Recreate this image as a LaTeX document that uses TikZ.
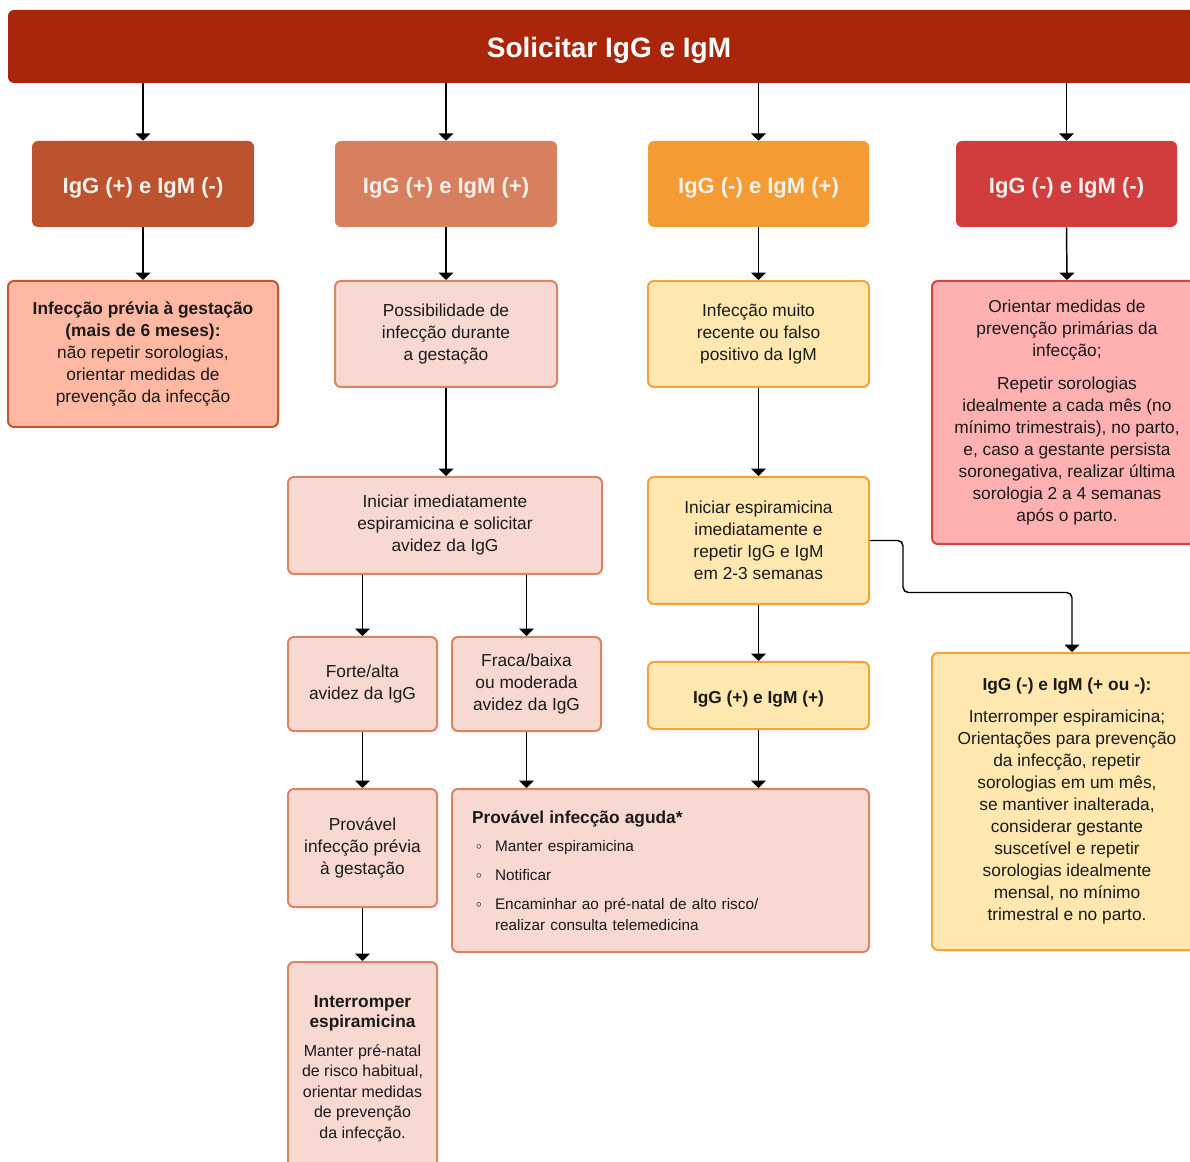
\documentclass[tikz,border=0pt]{standalone}
\usepackage{fontspec}
\setmainfont{Liberation Sans}
\usetikzlibrary{arrows.meta}
\newdimen\px \px=0.75pt
\definecolor{titlered}{HTML}{AA260A}
\definecolor{hdrA}{HTML}{BC532E}
\definecolor{hdrB}{HTML}{D7805F}
\definecolor{hdrC}{HTML}{F49C33}
\definecolor{hdrD}{HTML}{D13D3D}
\definecolor{hdrtxt}{HTML}{F6F0EA}
\definecolor{txt}{HTML}{1A1A1A}
\definecolor{salmonfill}{HTML}{FFB9A3}
\definecolor{salmonline}{HTML}{C7552F}
\definecolor{pinkfill}{HTML}{F8D9D1}
\definecolor{pinkline}{HTML}{DB8463}
\definecolor{yellowfill}{HTML}{FFE8B0}
\definecolor{yellowline}{HTML}{F5A23A}
\definecolor{redfill}{HTML}{FFB0B0}
\definecolor{redline}{HTML}{D44646}
\newcommand\blt{\makebox[17.25pt][l]{\hspace{3pt}\raisebox{1.4pt}{$\scriptstyle\circ$}}}

\begin{document}
\begin{tikzpicture}[x=0.75pt, y=-0.75pt,
	arr/.style={line width=1.1pt, -{Triangle[width=11pt,length=5.5pt]}},
	hdr/.style={rounded corners=4.5pt, text=hdrtxt, inner sep=0pt, text depth=0pt, text height=14.5pt, font=\fontsize{16.5}{20}\selectfont\bfseries},
	box/.style={rounded corners=4.5pt, line width=1.5pt, text=txt, inner sep=0pt, align=center, font=\fontsize{13}{16.5}\selectfont},
	salmonbox/.style={box, fill=salmonfill, draw=salmonline},
	pinkbox/.style={box, fill=pinkfill, draw=pinkline},
	yellowbox/.style={box, fill=yellowfill, draw=yellowline},
	redbox/.style={box, fill=redfill, draw=redline}]
	%%%%% START %%%%%
	\clip (0,0) rectangle (1190,1162);
	\fill[white] (0,0) rectangle (1190,1162);
	
	% titulo
	\node[rounded corners=4.5pt, fill=titlered, text=white, inner sep=0pt, text depth=0pt, text height=17pt, minimum width=1202\px, minimum height=73\px, font=\fontsize{21}{25}\selectfont\bfseries] (title) at (609,46.5) {Solicitar IgG e IgM};
	
	% resultados
	\node[hdr, fill=hdrA, minimum width=222\px, minimum height=86\px] (hA) at (143,184) {IgG (+) e IgM (-)};
	\node[hdr, fill=hdrB, minimum width=222\px, minimum height=86\px] (hB) at (446,184) {IgG (+) e IgM (+)};
	\node[hdr, fill=hdrC, minimum width=221\px, minimum height=86\px] (hC) at (758.5,184) {IgG (-) e IgM (+)};
	\node[hdr, fill=hdrD, minimum width=221\px, minimum height=86\px] (hD) at (1066.5,184) {IgG (-) e IgM (-)};
	
	\draw[arr] (hA.north |- title.south) -- (hA.north);
	\draw[arr] (hB.north |- title.south) -- (hB.north);
	\draw[arr] (hC.north |- title.south) -- (hC.north);
	\draw[arr] (hD.north |- title.south) -- (hD.north);
	
	% coluna A
	\node[salmonbox, minimum width=270\px, minimum height=146\px] (a2) at (143,354) {{\bfseries Infecção prévia à gestação}\\{\bfseries (mais de 6 meses):}\\não repetir sorologias,\\orientar medidas de\\prevenção da infecção};
	\draw[arr] (hA.south) -- (a2.north);
	
	% coluna B
	\node[pinkbox, minimum width=222\px, minimum height=106\px] (b2) at (446,334) {Possibilidade de\\infecção durante\\a gestação};
	\node[pinkbox, minimum width=314\px, minimum height=97\px] (b3) at (445,525.5) {Iniciar imediatamente\\espiramicina e solicitar\\avidez da IgG};
	\node[pinkbox, minimum width=149\px, minimum height=94\px] (b4a) at (362.5,684) {Forte/alta\\avidez da IgG};
	\node[pinkbox, minimum width=149\px, minimum height=94\px] (b4b) at (526.5,684) {Fraca/baixa\\ou moderada\\avidez da IgG};
	\node[pinkbox, minimum width=149\px, minimum height=118\px] (b5) at (362.5,848) {Provável\\infecção prévia\\à gestação};
	\node[pinkbox, minimum width=149\px, minimum height=213\px, font=\fontsize{12}{15.4}\selectfont] (b6) at (362.5,1068.5) {{\fontsize{13}{16}\selectfont\bfseries Interromper}\\{\fontsize{13}{16}\selectfont\bfseries espiramicina}\\[6pt]Manter pré-natal\\de risco habitual,\\orientar medidas\\de prevenção\\da infecção.};
	
	\draw[arr] (hB.south) -- (b2.north);
	\draw[arr] (b2.south) -- (b2.south |- b3.north);
	\draw[arr] (b4a.north |- b3.south) -- (b4a.north);
	\draw[arr] (b4b.north |- b3.south) -- (b4b.north);
	\draw[arr] (b4a.south) -- (b5.north);
	\draw[arr] (b5.south) -- (b6.north);
	
	% infeccao aguda
	\node[pinkbox, minimum width=417\px, minimum height=163\px, text width=377\px, align=left, font=\fontsize{11.5}{15.75}\selectfont] (acute) at (660.5,870.5) {{\fontsize{13}{16}\selectfont\bfseries Provável infecção aguda*}\\[5pt]\blt Manter espiramicina\\[6pt]\blt Notificar\\[6pt]\blt Encaminhar ao pré-natal de alto risco/\\\hspace*{17.25pt}realizar consulta telemedicina};
	\draw[arr] (b4b.south) -- (b4b.south |- acute.north);
	
	% coluna C
	\node[yellowbox, minimum width=221\px, minimum height=106\px] (c2) at (758.5,334) {Infecção muito\\recente ou falso\\positivo da IgM};
	\node[yellowbox, minimum width=221\px, minimum height=127\px] (c3) at (758.5,540.5) {Iniciar espiramicina\\imediatamente e\\repetir IgG e IgM\\em 2-3 semanas};
	\node[yellowbox, minimum width=221\px, minimum height=67\px, text depth=0pt, text height=12.3pt] (c4) at (758.5,695.5) {\bfseries IgG (+) e IgM (+)};
	
	\draw[arr] (hC.south) -- (c2.north);
	\draw[arr] (c2.south) -- (c3.north);
	\draw[arr] (c3.south) -- (c4.north);
	\draw[arr] (c4.south) -- (c4.south |- acute.north);
	
	% coluna D
	\node[redbox, minimum width=270\px, minimum height=263\px] (d2) at (1067,412.5) {Orientar medidas de\\prevenção primárias da\\infecção;\\[8pt]Repetir sorologias\\idealmente a cada mês (no\\mínimo trimestrais), no parto,\\e, caso a gestante persista\\soronegativa, realizar última\\sorologia 2 a 4 semanas\\após o parto.};
	\node[yellowbox, minimum width=270\px, minimum height=297\px] (d4) at (1067,801.5) {{\bfseries IgG (-) e IgM (+ ou -):}\\[7.5pt]Interromper espiramicina;\\Orientações para prevenção\\da infecção, repetir\\sorologias em um mês,\\se mantiver inalterada,\\considerar gestante\\suscetível e repetir\\sorologias idealmente\\mensal, no mínimo\\trimestral e no parto.};
	
	\draw[arr] (hD.south) -- (d2.north);
	\draw[arr, rounded corners=4pt] (c3.east) -- ++(33,0) -- ++(0,52) -| ([xshift=5\px]d4.north);
	%%%%% END %%%%%
\end{tikzpicture}
\end{document}
